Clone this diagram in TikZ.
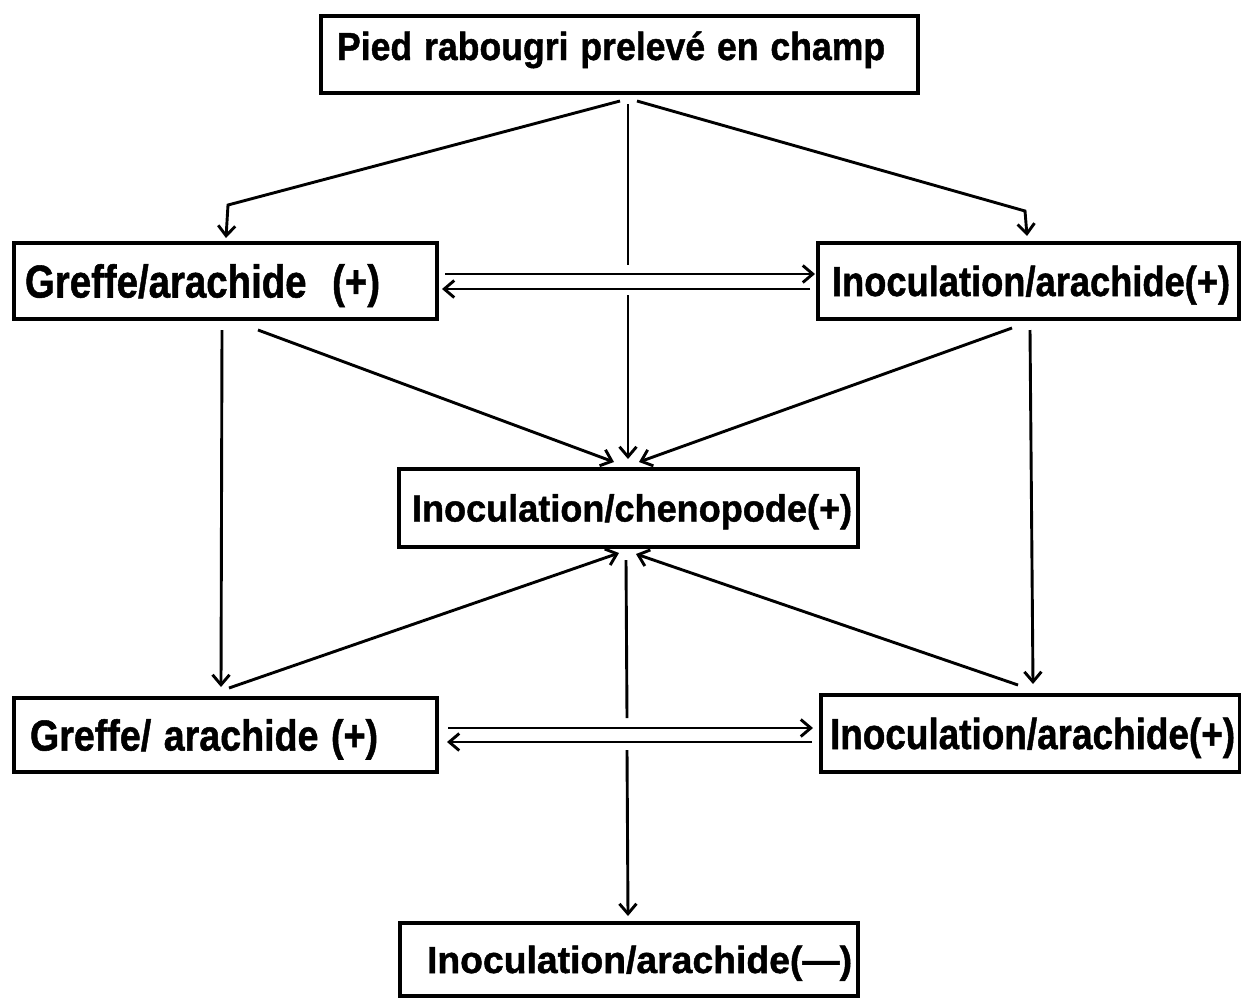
\documentclass[tikz,border=0pt]{standalone}
\usepackage{fontspec}
\usepackage{graphicx}
\setmainfont{Liberation Sans}[BoldFeatures={FakeBold=1.2}]
\usetikzlibrary{arrows.meta}
\newcommand\lbl[3]{\resizebox{#1pt}{#2pt}{\fontsize{10pt}{12pt}\selectfont\bfseries\smash{#3}\rule{0pt}{7.16pt}}}
\begin{document}
\begin{tikzpicture}[x=1pt,y=-1pt,
  box/.style={draw, line width=3.2pt, outer sep=0pt, inner ysep=0pt, align=left},
  arr/.style={line width=2.9pt, -{Straight Barb[length=10pt,width=17pt]}}]
\useasboundingbox (0,0) rectangle (1241,997);
% boxes
\node[box, inner xsep=16pt, text width=565pt, minimum height=77pt] (top) at (619.5,54.5) {\lbl{548}{28}{Pied rabougri prelevé en champ}\rule[-17pt]{0pt}{0pt}};
\node[box, inner xsep=11pt, text width=401pt, minimum height=76pt] (g1) at (225.5,281) {\lbl{355}{33}{Greffe/arachide\ \ (+)}};
\node[box, inner xsep=14pt, text width=393pt, minimum height=76pt] (i1) at (1028.5,281) {\lbl{398}{30}{Inoculation/arachide(+)}};
\node[box, inner xsep=13pt, text width=433pt, minimum height=78pt] (chen) at (628.5,508) {\lbl{440}{27}{Inoculation/chenopode(+)}};
\node[box, inner xsep=16pt, text width=391pt, minimum height=74pt] (g2) at (225.5,735) {\lbl{348}{31}{Greffe/ arachide (+)}};
\node[box, inner xsep=9pt, text width=401pt, minimum height=77pt] (i2) at (1030.5,733.5) {\lbl{405}{31}{Inoculation/arachide(+)}};
\node[box, inner xsep=27pt, text width=404pt, minimum height=73pt] (bot) at (629,959.5) {\lbl{425}{27}{Inoculation/arachide(—)}};
% gap coordinates on the central line
\coordinate (gapa) at (628,265);
\coordinate (gapb) at (628,295);
\coordinate (gapc) at (627,718);
\coordinate (gapd) at (627,750);
% arrows from the top box
\draw[arr] ([shift={(0.5,8)}]top.south) -- ([shift={(2.5,-38)}]g1.north) -- ([shift={(0.5,-5)}]g1.north);
\draw[arr] ([shift={(17.5,8)}]top.south) -- ([shift={(-3.5,-32)}]i1.north) -- ([shift={(-1.5,-7)}]i1.north);
\draw[arr] ([shift={(8.5,11)}]top.south) -- (gapa) (gapb) -- ([shift={(-0.5,-10)}]chen.north);
% to chenopode from above
\draw[arr] ([shift={(32.5,11)}]g1.south) -- ([shift={(-14.5,-7)}]chen.north);
\draw[arr] ([shift={(-16.5,9)}]i1.south) -- ([shift={(10.5,-7)}]chen.north);
% vertical side arrows
\draw[arr] ([shift={(-3.5,11)}]g1.south) -- ([shift={(-4.5,-11)}]g2.north);
\draw[arr] ([shift={(1.5,11)}]i1.south) -- ([shift={(2.5,-11)}]i2.north);
% to chenopode from below
\draw[arr] ([shift={(3.5,-10)}]g2.north) -- ([shift={(-9.5,6)}]chen.south);
\draw[arr] ([shift={(-12.5,-10)}]i2.north) -- ([shift={(7.5,7)}]chen.south);
% chenopode to bottom
\draw[arr] ([shift={(-2.5,13)}]chen.south) -- (gapc) (gapd) -- ([shift={(-1,-7)}]bot.north);
% double arrows
\draw[arr] ([shift={(8,-7)}]g1.east) -- ([shift={(-3,-7)}]i1.west);
\draw[arr] ([shift={(-8,8)}]i1.west) -- ([shift={(5,8)}]g1.east);
\draw[arr] ([shift={(11,-7)}]g2.east) -- ([shift={(-8,-5.5)}]i2.west);
\draw[arr] ([shift={(-9,8.5)}]i2.west) -- ([shift={(10,7)}]g2.east);
\end{tikzpicture}
\end{document}
